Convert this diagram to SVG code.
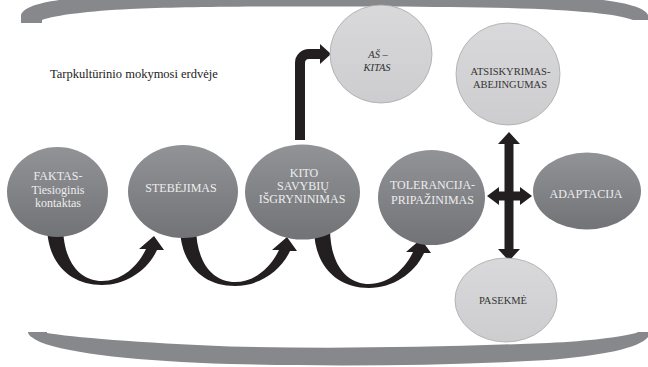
<svg xmlns="http://www.w3.org/2000/svg" width="648" height="367" viewBox="0 0 648 367">
  <defs>
    <linearGradient id="darkFill" x1="0" y1="0" x2="0" y2="1">
      <stop offset="0" stop-color="#929397"/>
      <stop offset="1" stop-color="#727377"/>
    </linearGradient>
    <linearGradient id="lightFill" x1="0" y1="0" x2="0" y2="1">
      <stop offset="0" stop-color="#d9d9db"/>
      <stop offset="1" stop-color="#cdcdcf"/>
    </linearGradient>
    <style>
      .band { fill: #87888c; }
      .dark { fill: url(#darkFill); }
      .light { fill: url(#lightFill); stroke: #a8a8aa; stroke-width: 0.8; }
      .arrow { fill: #231f20; }
      .shaft { fill: none; stroke: #231f20; stroke-width: 10; }
      text { font-family: "Liberation Serif", "DejaVu Serif", serif; text-anchor: middle; }
      .dt { fill: #ededed; font-size: 12px; }
      .lt { fill: #333333; font-size: 10.5px; }
      .it { font-style: italic; }
      .caption { fill: #222222; font-size: 12.5px; text-anchor: start; }
    </style>
  </defs>

  <!-- upper and lower framing bands -->
  <g id="frame">
    <path class="band" d="M 21,23 L 21,15 C 24,6 45,0 90,-3 C 200,-8 470,-8 570,-3 C 620,0 645,7 648,15 L 648,20 L 633,20 C 615,13 560,8 450,7 C 340,6 200,6 130,9 C 90,11 55,15 42,20 L 42,23 Z"/>
    <path class="band" d="M 28,332 L 47,332 L 47,333 C 70,337 140,343 230,346.5 C 330,349 430,347.5 548,343 C 590,341 620,337 636,333 L 638,332 L 648,332 L 648,337 C 640,348 600,356 548,360 C 440,366 330,366.5 230,364 C 140,361 70,354 40,342 C 32,338 28,335 28,332 Z"/>
  </g>

  <text class="caption" x="50" y="78" font-family="Liberation Serif, DejaVu Serif, serif">Tarpkultūrinio mokymosi erdvėje</text>

  <!-- connectors -->
  <g id="connectors">
    <!-- curved arrows between the process steps -->
    <path id="curl" class="arrow" d="M 47,225 C 47,263 70,285 102,285 C 126,285 148,270 157,250 L 164,250 L 154,236 L 139,249 L 146,249 C 138,266 122,281 102,281 C 80,281 63,262 63,225 Z"/>
    <use href="#curl" transform="translate(133,1)"/>
    <use href="#curl" transform="translate(267,3)"/>

    <!-- rising arrow towards AŠ – KITAS -->
    <path class="shaft" d="M 300,140 V 63 A 9 9 0 0 1 309,54 H 321"/>
    <polygon class="arrow" points="320,44 331,54 320,64"/>

    <!-- four-way arrow -->
    <rect class="arrow" x="504.5" y="142" width="9" height="108"/>
    <polygon class="arrow" points="509,132 520,144 498,144"/>
    <polygon class="arrow" points="509,261 520,249 498,249"/>
    <rect class="arrow" x="497" y="191.5" width="24" height="9"/>
    <polygon class="arrow" points="487,196 499,187 499,205"/>
    <polygon class="arrow" points="532,196 520,187 520,205"/>
  </g>

  <!-- process steps -->
  <g id="faktas" font-family="Liberation Serif, DejaVu Serif, serif">
    <ellipse class="dark" cx="57.5" cy="192" rx="50.5" ry="45"/>
    <text class="dt" x="58" y="180">FAKTAS-</text>
    <text class="dt" x="58" y="193.5">Tiesioginis</text>
    <text class="dt" x="58" y="207">kontaktas</text>
  </g>
  <g id="stebejimas">
    <ellipse class="dark" cx="183" cy="191.5" rx="55" ry="46.5"/>
    <text class="dt" x="181" y="191.5">STEBĖJIMAS</text>
  </g>
  <g id="kito">
    <ellipse class="dark" cx="302.5" cy="192" rx="57.5" ry="47.5"/>
    <text class="dt" x="304" y="177">KITO</text>
    <text class="dt" x="303" y="190">SAVYBIŲ</text>
    <text class="dt" x="302" y="203">IŠGRYNINIMAS</text>
  </g>
  <g id="tolerancija">
    <ellipse class="dark" cx="431.5" cy="197.5" rx="53.5" ry="47.5"/>
    <text class="dt" x="432.5" y="189">TOLERANCIJA-</text>
    <text class="dt" x="432.5" y="204">PRIPAŽINIMAS</text>
  </g>
  <g id="adaptacija">
    <ellipse class="dark" cx="587" cy="191" rx="54" ry="38.5"/>
    <text class="dt" x="586" y="198">ADAPTACIJA</text>
  </g>

  <!-- outcomes -->
  <g id="as-kitas">
    <ellipse class="light" cx="381" cy="54" rx="51" ry="49"/>
    <text class="lt it" x="378" y="58">AŠ –</text>
    <text class="lt it" x="377" y="71">KITAS</text>
  </g>
  <g id="atsiskyrimas">
    <ellipse class="light" cx="508" cy="74" rx="52" ry="51"/>
    <text class="lt" x="510.5" y="75">ATSISKYRIMAS-</text>
    <text class="lt" x="510" y="88">ABEJINGUMAS</text>
  </g>
  <g id="pasekme">
    <ellipse class="light" cx="506" cy="300" rx="51" ry="42"/>
    <text class="lt" x="503" y="304">PASEKMĖ</text>
  </g>
</svg>
